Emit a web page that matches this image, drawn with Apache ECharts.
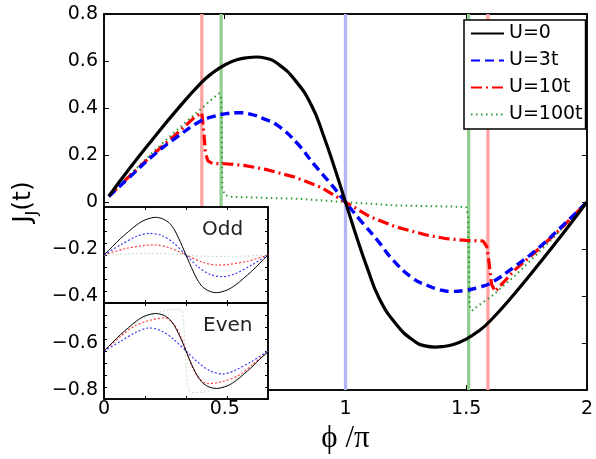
<!DOCTYPE html>
<html>
<head>
<meta charset="utf-8">
<script src="https://cdn.jsdelivr.net/npm/echarts@6/dist/echarts.min.js"></script>
<style>
  html, body { margin: 0; padding: 0; background: #fff; }
  #chart { width: 596px; height: 459px; }
</style>
</head>
<body>
<div id="chart"></div>
<script>
// main panel, phi/pi vs J_J(t)
const phiU0 = [0.02, 0.1, 0.2, 0.3, 0.4, 0.45, 0.5, 0.55, 0.6, 0.63, 0.67, 0.72, 0.79, 0.86, 0.91, 0.955, 1.0,
  1.045, 1.09, 1.14, 1.21, 1.28, 1.33, 1.37, 1.4, 1.45, 1.5, 1.55, 1.6, 1.7, 1.8, 1.9, 2.0];
const jU0 = [0.025, 0.135, 0.265, 0.39, 0.505, 0.55, 0.583, 0.605, 0.615, 0.617, 0.612, 0.588, 0.52, 0.41, 0.28, 0.145, 0.0,
  -0.145, -0.28, -0.41, -0.52, -0.588, -0.612, -0.617, -0.615, -0.605, -0.583, -0.55, -0.505, -0.39, -0.265, -0.135, 0.0];

const phiU3 = [0.02, 0.1, 0.2, 0.3, 0.4, 0.45, 0.5, 0.56, 0.61, 0.66, 0.72, 0.8, 0.87, 0.94, 1.0,
  1.06, 1.13, 1.2, 1.28, 1.34, 1.39, 1.44, 1.5, 1.55, 1.6, 1.7, 1.8, 1.9, 2.0];
const jU3 = [0.024, 0.1, 0.195, 0.275, 0.345, 0.363, 0.375, 0.38, 0.373, 0.355, 0.325, 0.25, 0.16, 0.076, 0.0,
  -0.076, -0.16, -0.25, -0.325, -0.355, -0.373, -0.38, -0.375, -0.363, -0.345, -0.275, -0.195, -0.1, 0.0];

const phiU10 = [0.02, 0.1, 0.2, 0.3, 0.38, 0.405, 0.413, 0.42, 0.43, 0.45, 0.5, 0.58, 0.665, 0.79, 0.9, 1.0,
  1.1, 1.21, 1.335, 1.42, 1.5, 1.57, 1.585, 1.595, 1.605, 1.62, 1.7, 1.8, 1.9, 2.0];
const jU10 = [0.025, 0.105, 0.2, 0.29, 0.365, 0.38, 0.3, 0.21, 0.175, 0.164, 0.163, 0.156, 0.14, 0.106, 0.062, 0.0,
  -0.062, -0.106, -0.14, -0.156, -0.163, -0.166, -0.19, -0.26, -0.35, -0.38, -0.29, -0.2, -0.105, 0.0];

const phiU100 = [0.02, 0.1, 0.2, 0.3, 0.4, 0.45, 0.477, 0.486, 0.488, 0.49, 0.5, 0.53, 0.8, 1.0,
  1.2, 1.47, 1.5, 1.508, 1.511, 1.514, 1.523, 1.55, 1.6, 1.7, 1.8, 1.9, 2.0];
const jU100 = [0.025, 0.11, 0.21, 0.305, 0.395, 0.44, 0.463, 0.44, 0.25, 0.06, 0.03, 0.022, 0.014, 0.0,
  -0.014, -0.02, -0.022, -0.06, -0.25, -0.44, -0.463, -0.44, -0.405, -0.315, -0.215, -0.11, 0.0];

const redMarks = [0.405, 1.59];
const greenMarks = [0.485, 1.51];
const blueMarks = [1.0];

// inset panels (arbitrary units)
const phiIn = [0, 0.1, 0.2, 0.3, 0.4, 0.5, 0.63, 0.72, 0.8, 0.86, 0.91, 0.955, 1.0,
  1.045, 1.09, 1.14, 1.2, 1.28, 1.37, 1.5, 1.6, 1.7, 1.8, 1.9, 2.0];
const oddU0 = [0, 0.17, 0.34, 0.49, 0.63, 0.73, 0.785, 0.75, 0.66, 0.52, 0.35, 0.18, 0,
  -0.18, -0.35, -0.52, -0.66, -0.75, -0.785, -0.73, -0.63, -0.49, -0.34, -0.17, 0];
const evenU0 = [0, 0.17, 0.34, 0.49, 0.63, 0.73, 0.78, 0.75, 0.66, 0.52, 0.36, 0.19, 0,
  -0.19, -0.36, -0.52, -0.66, -0.75, -0.78, -0.73, -0.63, -0.49, -0.34, -0.17, -0.02];

const phiInB = [0, 0.2, 0.4, 0.55, 0.7, 0.85, 1.0, 1.15, 1.3, 1.45, 1.6, 1.8, 2.0];
const oddU3 = [0, 0.21, 0.39, 0.45, 0.41, 0.25, 0, -0.25, -0.41, -0.45, -0.39, -0.21, 0];
const evenU3 = [0, 0.2, 0.4, 0.48, 0.42, 0.24, 0, -0.24, -0.42, -0.48, -0.4, -0.22, 0];

const phiInR = [0, 0.25, 0.5, 0.62, 0.8, 1.0, 1.2, 1.38, 1.5, 1.75, 2.0];
const oddU10 = [0, 0.13, 0.2, 0.21, 0.15, 0, -0.15, -0.21, -0.2, -0.13, 0];
const phiInR2 = [0, 0.2, 0.36, 0.56, 0.74, 0.85, 0.93, 1.0, 1.07, 1.15, 1.26, 1.44, 1.64, 1.8, 2.0];
const evenU10 = [0, 0.3, 0.51, 0.64, 0.69, 0.56, 0.32, 0.02, -0.3, -0.55, -0.68, -0.64, -0.51, -0.3, 0];

const phiInG = [0, 0.5, 0.8, 1.0, 1.2, 1.5, 2.0];
const oddU100 = [0, 0.03, 0.025, 0, -0.025, -0.03, 0];
const phiInG2 = [0, 0.2, 0.36, 0.56, 0.77, 0.9, 0.95, 0.97, 0.985, 1.0, 1.02, 1.04, 1.1, 1.23, 1.44, 1.64, 1.8, 2.0];
const evenU100 = [0, 0.32, 0.55, 0.75, 0.85, 0.87, 0.85, 0.6, 0.2, -0.3, -0.7, -0.84, -0.87, -0.85, -0.75, -0.55, -0.32, 0];

const pairs = (xs, ys) => xs.map((x, i) => [x, ys[i]]);
const FONT = 'DejaVu Sans';

function box(gridIndex, pos, opt) {
  return Object.assign({
    gridIndex: gridIndex, type: 'value', position: pos,
    axisLine: { show: true, onZero: false, lineStyle: { color: '#000', width: 1.5 } },
    axisTick: { show: true, inside: true, length: 5, lineStyle: { color: '#000', width: 1 } },
    axisLabel: { show: false },
    splitLine: { show: false }
  }, opt);
}

const tickFmt = v => (v === 0 ? '0' : String(+v.toFixed(1))).replace('-', '\u2212');
const smallTick = { inside: true, length: 3, lineStyle: { color: '#000' } };

const xAxes = [
  box(0, 'bottom', { min: 0, max: 2, interval: 0.5,
    axisLabel: { show: true, fontFamily: FONT, fontSize: 19, color: '#000', margin: 9, formatter: tickFmt },
    name: '\u03d5 /\u03c0', nameLocation: 'middle', nameGap: 32,
    nameTextStyle: { fontFamily: 'Liberation Serif, DejaVu Serif', fontSize: 31, color: '#000' } }),
  box(0, 'top', { min: 0, max: 2, interval: 0.5 }),
  box(1, 'bottom', { min: 0, max: 2, interval: 0.5, z: 11, axisTick: smallTick }),
  box(1, 'top', { min: 0, max: 2, interval: 0.5, z: 11, axisTick: smallTick }),
  box(2, 'bottom', { min: 0, max: 2, interval: 0.5, z: 11, axisTick: smallTick }),
  box(2, 'top', { min: 0, max: 2, interval: 0.5, z: 11, axisTick: smallTick })
];

const yAxes = [
  box(0, 'left', { min: -0.8, max: 0.8, interval: 0.2,
    axisLabel: { show: true, fontFamily: FONT, fontSize: 19, color: '#000', margin: 6, formatter: tickFmt },
    name: '{a|J}{s|J}{a|(t)}', nameLocation: 'middle', nameGap: 60, nameRotate: 90,
    nameTextStyle: { rich: {
      a: { fontFamily: FONT, fontSize: 25, color: '#000', lineHeight: 34, verticalAlign: 'middle' },
      s: { fontFamily: FONT, fontSize: 16, color: '#000', lineHeight: 34, verticalAlign: 'bottom' }
    } } }),
  box(0, 'right', { min: -0.8, max: 0.8, interval: 0.2 }),
  box(1, 'left', { min: -1, max: 1, interval: 0.25, z: 11, axisTick: smallTick }),
  box(1, 'right', { min: -1, max: 1, interval: 0.25, z: 11, axisTick: smallTick }),
  box(2, 'left', { min: -1, max: 1, interval: 0.25, z: 11, axisTick: smallTick }),
  box(2, 'right', { min: -1, max: 1, interval: 0.25, z: 11, axisTick: smallTick })
];

function curve(name, data, color, width, type, smooth, axis, z) {
  return {
    name: name, type: 'line', data: data,
    xAxisIndex: axis, yAxisIndex: axis,
    showSymbol: false, symbol: 'none', smooth: smooth,
    lineStyle: { color: color, width: width, type: type, cap: 'butt' },
    itemStyle: { color: color, opacity: 0 },
    silent: true, animation: false, z: z
  };
}

function marker(x, color) {
  return {
    type: 'line', data: [[x, -0.8], [x, 0.8]],
    xAxisIndex: 0, yAxisIndex: 0, symbol: 'none', silent: true, animation: false,
    lineStyle: { color: color, width: 3.3 }, z: 1
  };
}

const series = []
  .concat(redMarks.map(x => marker(x, '#ffa3a3')))
  .concat(greenMarks.map(x => marker(x, '#93cf93')))
  .concat(blueMarks.map(x => marker(x, '#b4b4f6')))
  .concat([
    curve('U=100t', pairs(phiU100, jU100), '#2f9a2f', 2, [1.5, 3.5], false, 0, 3),
    curve('U=10t', pairs(phiU10, jU10), '#ff0000', 3.2, [11, 4, 2, 4], false, 0, 4),
    curve('U=3t', pairs(phiU3, jU3), '#0000ff', 3.4, [9, 5], 0.5, 0, 5),
    curve('U=0', pairs(phiU0, jU0), '#000000', 3.2, 'solid', 0.5, 0, 6),

    curve('odd100', pairs(phiInG, oddU100), '#c3e2c3', 1, [2, 2], 0.3, 2, 12),
    curve('odd10', pairs(phiInR, oddU10), '#ff3a3a', 1.2, [2, 2], 0.3, 2, 13),
    curve('odd3', pairs(phiInB, oddU3), '#3a3aff', 1.2, [2, 2], 0.3, 2, 13),
    curve('odd0', pairs(phiIn, oddU0), '#000000', 1, 'solid', 0.3, 2, 14),

    curve('even100', pairs(phiInG2, evenU100), '#c3e2c3', 1, [2, 2], 0.15, 4, 12),
    curve('even10', pairs(phiInR2, evenU10), '#ff3a3a', 1.2, [2, 2], 0.3, 4, 13),
    curve('even3', pairs(phiInB, evenU3), '#3a3aff', 1.2, [2, 2], 0.3, 4, 13),
    curve('even0', pairs(phiIn, evenU0), '#000000', 1, 'solid', 0.3, 4, 14)
  ]);

const chart = echarts.init(document.getElementById('chart'), null, { renderer: 'canvas' });
chart.setOption({
  backgroundColor: '#fff',
  animation: false,
  grid: [
    { left: 104, top: 14, width: 484, height: 385, show: true, borderColor: '#000', borderWidth: 1.5, backgroundColor: 'transparent' },
    { left: 104, top: 207, width: 164, height: 96, show: true, borderColor: '#000', borderWidth: 1.5, backgroundColor: '#fff', z: 10 },
    { left: 104, top: 303, width: 164, height: 96, show: true, borderColor: '#000', borderWidth: 1.5, backgroundColor: '#fff', z: 10 }
  ],
  legend: {
    data: ['U=0', 'U=3t', 'U=10t', 'U=100t'],
    orient: 'vertical', left: 464, top: 20,
    itemWidth: 33, itemHeight: 14, itemGap: 8,
    padding: [4, 3, 5, 6],
    backgroundColor: '#fff', borderColor: '#000', borderWidth: 1.5, borderRadius: 0,
    itemStyle: { opacity: 0 },
    textStyle: { fontFamily: FONT, fontSize: 19, color: '#000' },
    z: 20
  },
  graphic: [
    { type: 'text', left: 202, top: 220, z: 30, style: { text: 'Odd', font: '20px "DejaVu Sans"', fill: '#222' } },
    { type: 'text', left: 203, top: 316, z: 30, style: { text: 'Even', font: '20px "DejaVu Sans"', fill: '#222' } }
  ],
  xAxis: xAxes,
  yAxis: yAxes,
  series: series
});
</script>
</body>
</html>
